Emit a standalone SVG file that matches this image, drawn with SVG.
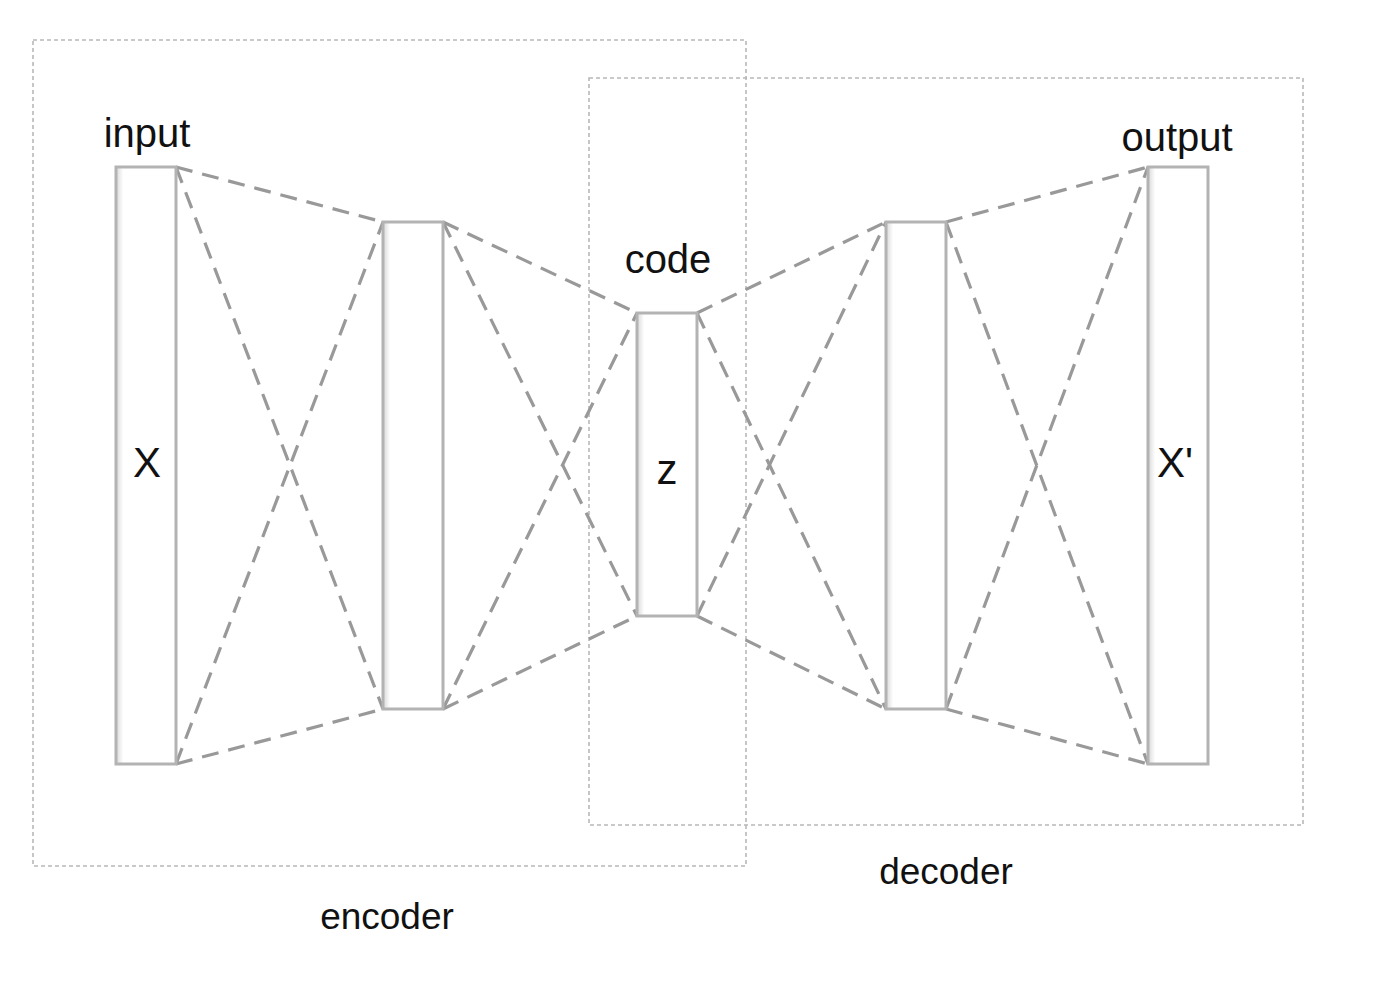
<svg xmlns="http://www.w3.org/2000/svg" width="1382" height="994" viewBox="0 0 1382 994">
<defs>
<linearGradient id="sh" x1="0" x2="1" y1="0" y2="0">
<stop offset="0" stop-color="#d8d8d8"/>
<stop offset="0.12" stop-color="#ffffff"/>
<stop offset="1" stop-color="#ffffff"/>
</linearGradient>
<style>
.layer{fill:url(#sh);stroke:#b3b3b3;stroke-width:3}
.conn{stroke:#999999;stroke-width:3.2;stroke-dasharray:17 10;fill:none}
.box{fill:none;stroke:#b8b8b8;stroke-width:1.6;stroke-dasharray:4 3}
.lbl{font-family:"Liberation Sans",Arial,sans-serif;font-size:40px;fill:#111;text-anchor:middle}
.sym{font-family:"Liberation Sans",Arial,sans-serif;font-size:42px;fill:#111;text-anchor:middle}
.grp{font-family:"Liberation Sans",Arial,sans-serif;font-size:37px;fill:#111;text-anchor:middle}
</style>
</defs>
<rect width="1382" height="994" fill="#ffffff"/>
<g id="encoder-box"><rect class="box" x="33" y="40" width="713" height="826"/><text class="grp" x="387" y="929">encoder</text></g>
<g id="decoder-box"><rect class="box" x="589" y="78" width="714" height="747"/><text class="grp" x="946" y="884">decoder</text></g>
<g id="connectors">
<line class="conn" x1="176" y1="167" x2="383" y2="222"/>
<line class="conn" x1="176" y1="167" x2="383" y2="709"/>
<line class="conn" x1="176" y1="764" x2="383" y2="222"/>
<line class="conn" x1="176" y1="764" x2="383" y2="709"/>
<line class="conn" x1="443" y1="222" x2="637" y2="313"/>
<line class="conn" x1="443" y1="222" x2="637" y2="616"/>
<line class="conn" x1="443" y1="709" x2="637" y2="313"/>
<line class="conn" x1="443" y1="709" x2="637" y2="616"/>
<line class="conn" x1="697" y1="313" x2="886" y2="222"/>
<line class="conn" x1="697" y1="313" x2="886" y2="709"/>
<line class="conn" x1="697" y1="616" x2="886" y2="222"/>
<line class="conn" x1="697" y1="616" x2="886" y2="709"/>
<line class="conn" x1="946" y1="222" x2="1148" y2="167"/>
<line class="conn" x1="946" y1="222" x2="1148" y2="764"/>
<line class="conn" x1="946" y1="709" x2="1148" y2="167"/>
<line class="conn" x1="946" y1="709" x2="1148" y2="764"/>
</g>
<g id="input"><rect class="layer" x="116" y="167" width="60" height="597"/><text class="lbl" x="147" y="147">input</text><text class="sym" x="147" y="477">X</text></g>
<g id="hidden1"><rect class="layer" x="383" y="222" width="60" height="487"/></g>
<g id="code"><rect class="layer" x="637" y="313" width="60" height="303"/><text class="lbl" x="668" y="273">code</text><text class="sym" x="667" y="484">z</text></g>
<g id="hidden2"><rect class="layer" x="886" y="222" width="60" height="487"/></g>
<g id="output"><rect class="layer" x="1148" y="167" width="60" height="597"/><text class="lbl" x="1177" y="151">output</text><text class="sym" x="1175" y="477">X'</text></g>
</svg>
